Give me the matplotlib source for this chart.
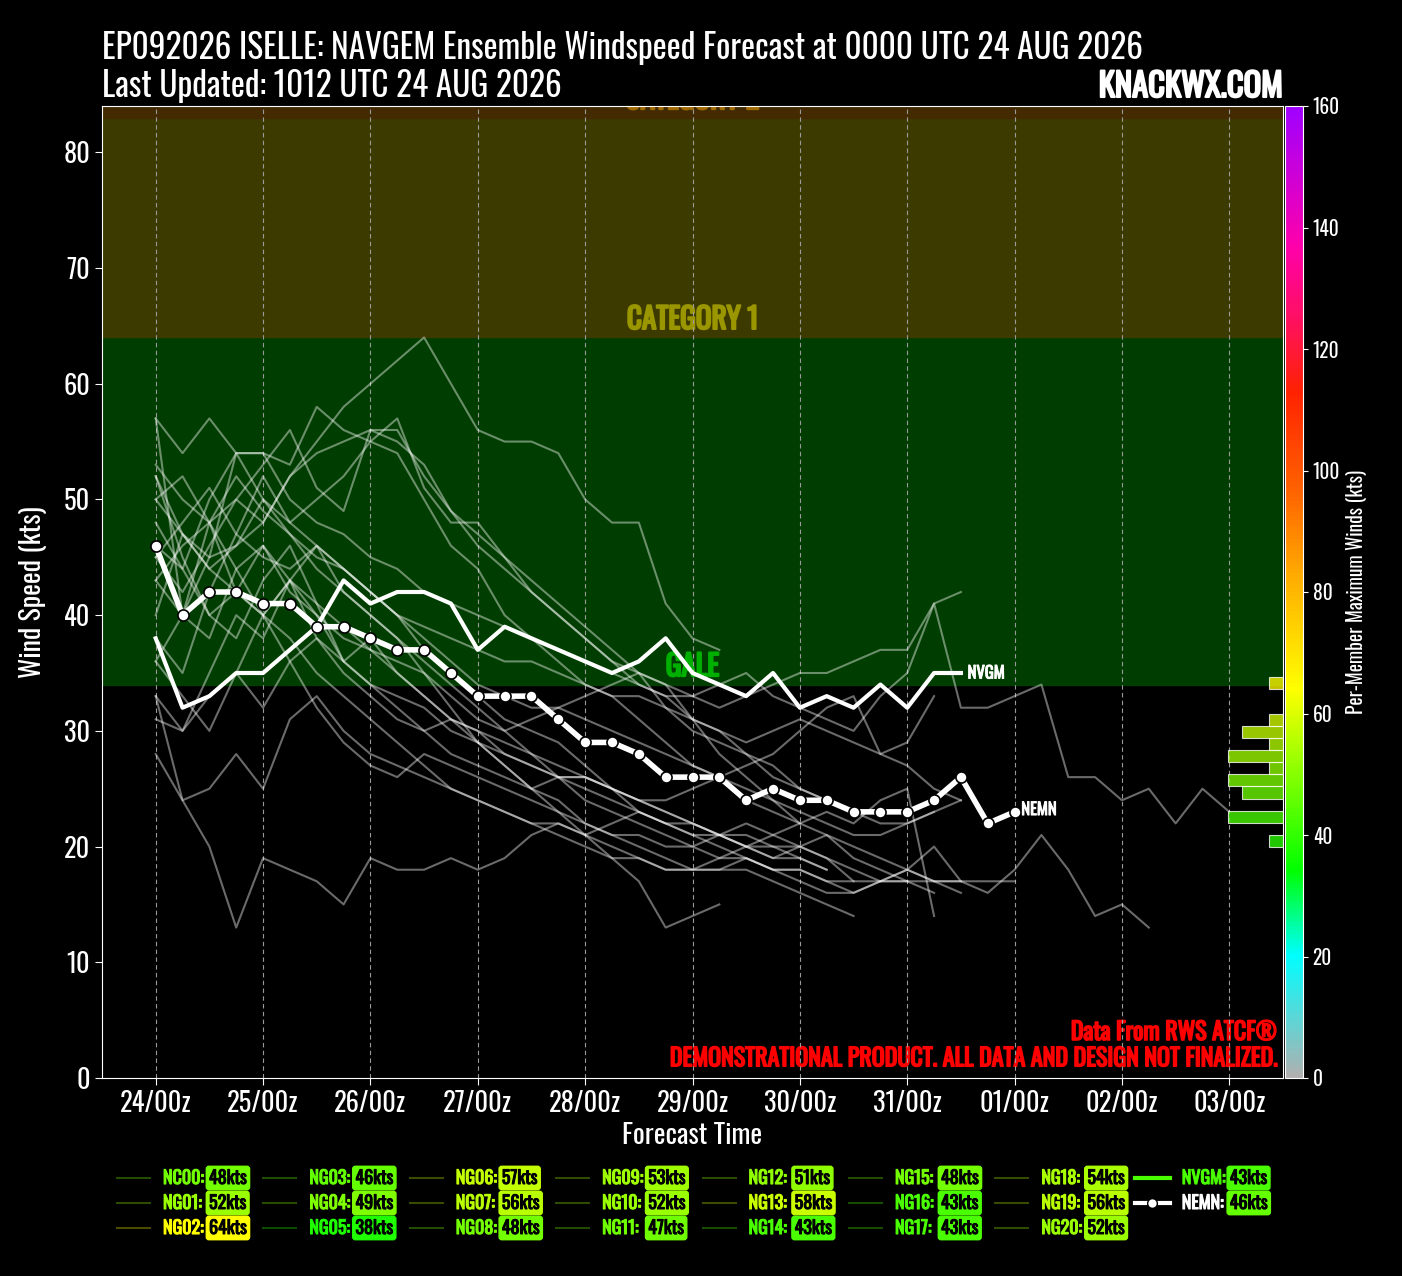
import numpy as np
import matplotlib
matplotlib.use('Agg')
import matplotlib.pyplot as plt
import matplotlib.patheffects as pe
from matplotlib import font_manager
from matplotlib.colors import LinearSegmentedColormap, Normalize
from matplotlib.colorbar import ColorbarBase

# ---- data ----
day_labels = ['24/00z', '25/00z', '26/00z', '27/00z', '28/00z', '29/00z',
              '30/00z', '31/00z', '01/00z', '02/00z', '03/00z']

nvgm = [38, 32, 33, 35, 35, 37, 39, 43, 41, 42, 42, 41, 37, 39, 38, 37, 36, 35, 36, 38,
        35, 34, 33, 35, 32, 33, 32, 34, 32, 35, 35]
nemn = [46, 40, 42, 42, 41, 41, 39, 39, 38, 37, 37, 35, 33, 33, 33, 31, 29, 29, 28, 26,
        26, 26, 24, 25, 24, 24, 23, 23, 23, 24, 26, 22, 23]

member_names = ['NC00', 'NG01', 'NG02', 'NG03', 'NG04', 'NG05', 'NG06', 'NG07', 'NG08', 'NG09',
                'NG10', 'NG11', 'NG12', 'NG13', 'NG14', 'NG15', 'NG16', 'NG17', 'NG18', 'NG19', 'NG20']
member_max = [48, 52, 64, 46, 49, 38, 57, 56, 48, 53, 52, 47, 51, 58, 43, 48, 43, 43, 54, 56, 52]
nvgm_max = 43
nemn_max = 46

# 6-hourly member winds from 24/00z
members = [
    [48, 44, 40, 42, 46, 43, 40, 38, 37, 35, 33, 31, 30, 29, 28, 27, 26, 25, 23, 22, 21, 21, 20, 19, 19, 18],
    [52, 47, 44, 46, 50, 47, 44, 42, 40, 38, 36, 34, 32, 30, 28, 26, 25, 24, 23, 22, 22, 21, 20, 19, 20, 21, 19, 18, 17],
    [50, 47, 45, 46, 48, 52, 55, 58, 60, 62, 64, 60, 56, 55, 55, 54, 50, 48, 48, 41, 38, 37],
    [43, 40, 38, 44, 46, 42, 40, 36, 34, 32, 30, 31, 29, 27, 25, 24, 22, 21, 20, 19, 18, 18, 19, 18, 17, 16, 16, 17, 17, 16],
    [33, 24, 25, 28, 25, 31, 33, 30, 28, 27, 26, 25, 24, 23, 22, 22, 21, 22, 23, 22, 21, 20, 19, 18, 18, 17, 16, 17, 18, 17, 16],
    [31, 30, 33, 35, 32, 36, 38, 35, 33, 31, 30, 28, 27, 26, 25, 26, 24, 23, 22, 21, 20, 21, 22, 21, 22, 23, 22, 24, 25, 14],
    [57, 40, 45, 54, 50, 48, 50, 52, 55, 54, 50, 46, 44, 40, 38, 36, 34, 33, 31, 29, 27, 26, 24, 23, 22],
    [45, 42, 46, 50, 48, 52, 54, 55, 56, 56, 52, 49, 46, 44, 42, 40, 38, 36, 35, 34, 31, 28, 26, 24, 22, 21, 20, 19, 18, 17, 17],
    [36, 40, 48, 44, 40, 38, 35, 33, 31, 29, 27, 25, 24, 23, 22, 21, 20, 19, 19, 18, 18, 18, 18, 17, 16, 15, 14],
    [53, 50, 48, 52, 49, 47, 45, 44, 42, 40, 39, 38, 37, 36, 36, 35, 34, 33, 33, 32, 31, 30, 29, 30, 31, 30, 29, 28, 27, 25, 24],
    [38, 35, 42, 47, 52, 48, 46, 44, 42, 40, 38, 36, 34, 33, 32, 32, 31, 30, 29, 28, 27, 26, 25, 24, 23, 22, 21, 21, 22, 23],
    [40, 47, 44, 42, 40, 36, 32, 29, 27, 26, 28, 27, 26, 25, 24, 23, 22, 21, 21, 20, 20, 19, 19, 18, 18, 17, 17],
    [45, 48, 51, 47, 45, 44, 46, 42, 40, 38, 35, 32, 29, 27, 25, 23, 21, 19, 17, 13, 14, 15],
    [57, 54, 57, 54, 54, 53, 58, 56, 55, 57, 51, 48, 48, 45, 42, 40, 38, 36, 34, 33, 31, 30, 28, 27, 25, 24],
    [28, 24, 20, 13, 19, 18, 17, 15, 19, 18, 18, 19, 18, 19, 21, 22, 21, 20, 19, 18, 18, 19, 20, 21, 20, 19, 17, 17,
     18, 20, 17, 16, 18, 21, 18, 14, 15, 13],
    [43, 46, 48, 42, 40, 43, 46, 44, 42, 40, 37, 35, 33, 31, 30, 29, 27, 25, 24, 23, 22, 21, 20, 20, 19, 18],
    [36, 33, 30, 35, 40, 43, 38, 36, 34, 33, 32, 30, 29, 28, 27, 26, 26, 25, 24, 24, 25, 26, 27, 28, 30, 32, 33, 28, 29, 33],
    [33, 30, 35, 40, 38, 43, 41, 39, 37, 36, 35, 33, 31, 30, 31, 32, 33, 34, 35, 34, 33, 32, 33, 34, 35, 35, 36, 37, 37, 41, 42],
    [46, 44, 50, 54, 54, 50, 48, 47, 45, 44, 42, 41, 40, 39, 38, 37, 36, 35, 34, 33, 33, 34, 35, 33, 32, 31, 30, 33, 35,
     41, 32, 32, 33, 34, 26, 26, 24, 25, 22, 25, 23],
    [50, 52, 48, 50, 53, 56, 51, 49, 56, 55, 53, 49, 47, 45, 43, 41, 39, 37, 35, 32, 30, 29, 28, 26, 25, 24, 23, 22, 22, 23, 24],
    [52, 45, 40, 38, 43, 46, 41, 36, 38, 35, 33, 31, 30, 28, 27, 26, 26, 25, 24, 23, 22, 21, 21, 20, 20, 19, 18, 17, 17, 17, 17, 17, 17],
]

# Oswald here is a variable font at its default weight, so fake the bold with a stroke
plt.rcParams['font.family'] = ['Oswald', 'DejaVu Sans']
has_bold = any(str(f.weight) in ('bold', '700', '600', 'semibold', 'demibold')
               for f in font_manager.fontManager.ttflist if f.name == 'Oswald')


def bold_kw(col, w=0.9):
    if has_bold:
        return dict(fontweight='bold')
    return dict(path_effects=[pe.withStroke(linewidth=w, foreground=col)])


# colour map for per-member maximum winds
cmap = LinearSegmentedColormap.from_list('wind', [
    (0 / 160, '#b0b0b0'), (20 / 160, '#00ffff'), (34 / 160, '#00ff00'), (64 / 160, '#ffff00'),
    (83 / 160, '#ffaa00'), (96 / 160, '#ff6600'), (113 / 160, '#ff2200'), (125 / 160, '#ff1060'),
    (137 / 160, '#ff00aa'), (160 / 160, '#a000ff')])
norm = Normalize(0, 160)

W, H = 1402, 1276
fig = plt.figure(figsize=(W / 100, H / 100), dpi=100, facecolor='black')

ax_l, ax_r, ax_t, ax_b = 102, 1283, 106, 1078
ax = fig.add_axes([ax_l / W, 1 - ax_b / H, (ax_r - ax_l) / W, (ax_b - ax_t) / H])
ax.set_facecolor('black')
ax.set_xlim(-12, 252)
ax.set_ylim(0, 84)

# intensity bands
ax.axhspan(34, 64, color='#003d00', zorder=0)
ax.axhspan(64, 83, color='#3d3a00', zorder=0)
ax.axhspan(83, 96, color='#432a00', zorder=0)
ax.text(120, 34.3, 'GALE', color='#00b000', fontsize=21, ha='center', va='bottom', zorder=1,
        **bold_kw('#00b000', 1.5))
ax.text(120, 64.3, 'CATEGORY 1', color='#9a9600', fontsize=21, ha='center', va='bottom', zorder=1,
        **bold_kw('#9a9600', 1.5))
ax.text(120, 83.3, 'CATEGORY 2', color='#a06a00', fontsize=21, ha='center', va='bottom',
        zorder=1, clip_on=True, **bold_kw('#a06a00', 1.5))
ax.text(0.995, 0.035, 'Data From RWS ATCF\u00ae', transform=ax.transAxes, color='red',
        fontsize=17.3, ha='right', va='bottom', zorder=1, **bold_kw('red', 1.2))
ax.text(0.995, 0.008, 'DEMONSTRATIONAL PRODUCT. ALL DATA AND DESIGN NOT FINALIZED.', transform=ax.transAxes,
        color='red', fontsize=17.3, ha='right', va='bottom', zorder=1, **bold_kw('red', 1.2))

for d in range(len(day_labels)):
    ax.axvline(d * 24, color='#9a9a9a', lw=0.8, ls=(0, (4, 3)), zorder=1.5)

for series in members:
    hrs = np.arange(len(series)) * 6
    ax.plot(hrs, series, color='white', alpha=0.42, lw=1.5, zorder=2)

hrs = np.arange(len(nvgm)) * 6
ax.plot(hrs, nvgm, color='white', lw=3, zorder=4)
ax.text(hrs[-1] + 1.5, nvgm[-1], 'NVGM', color='white', fontsize=12, va='center', zorder=5,
        **bold_kw('white', 0.7))

hrs = np.arange(len(nemn)) * 6
ax.plot(hrs, nemn, color='white', lw=4, marker='o', ms=8, mfc='white', mec='black', mew=1.2, zorder=5)
ax.text(hrs[-1] + 1.5, nemn[-1] + 0.2, 'NEMN', color='white', fontsize=12, va='center', zorder=6,
        **bold_kw('white', 0.7))

ax.set_xticks(np.arange(len(day_labels)) * 24)
ax.set_xticklabels(day_labels)
ax.set_yticks(np.arange(0, 81, 10))
ax.tick_params(colors='white', labelsize=19, length=5)
for sp in ax.spines.values():
    sp.set_color('white')
ax.set_xlabel('Forecast Time', color='white', fontsize=20, labelpad=4)
ax.set_ylabel('Wind Speed (kts)', color='white', fontsize=20, labelpad=12)

# histogram of per-member maxima on the colour bar scale
all_max = member_max + [nvgm_max, nemn_max]
counts, edges = np.histogram(all_max, bins=np.arange(0, 162, 2))
hw = 137
hax = fig.add_axes([(ax_r - hw) / W, 1 - ax_b / H, hw / W, (ax_b - ax_t) / H])
hax.patch.set_alpha(0)
hax.set_xlim(10, 0)
hax.set_ylim(0, 160)
hax.axis('off')
for c, e in zip(counts, edges[:-1]):
    if c > 0:
        hax.barh(e, c, height=2, align='edge', color=cmap(norm(e + 1)), alpha=0.78,
                 edgecolor=(1, 1, 1, 0.25), lw=0.8)

# colour bar
cax = fig.add_axes([1285 / W, 1 - ax_b / H, 18 / W, (ax_b - ax_t) / H])
cb = ColorbarBase(cax, cmap=cmap, norm=norm, ticks=np.arange(0, 161, 20))
cb.outline.set_edgecolor('white')
cax.tick_params(colors='white', labelsize=14)
cb.set_label('Per-Member Maximum Winds (kts)', color='white', fontsize=14)

# titles
fig.text(102 / W, 1 - 59 / H, 'EP092026 ISELLE: NAVGEM Ensemble Windspeed Forecast at 0000 UTC 24 AUG 2026',
         color='white', fontsize=24, ha='left', va='baseline')
fig.text(102 / W, 1 - 97 / H, 'Last Updated: 1012 UTC 24 AUG 2026', color='white', fontsize=24,
         ha='left', va='baseline')
fig.text(1283 / W, 1 - 97 / H, 'KNACKWX.COM', color='white', fontsize=23.5,
         ha='right', va='baseline', **bold_kw('white', 1.5))

# custom legend
col_x = [117 + 146.4 * c for c in range(8)]
row_y = [1178, 1203, 1228]
for i, (name, v) in enumerate(zip(member_names, member_max)):
    c, r = divmod(i, 3)
    x0, y0 = col_x[c], row_y[r]
    col = cmap(norm(v))
    fig.add_artist(plt.Line2D([x0 / W, (x0 + 33) / W], [1 - y0 / H] * 2, color=col, alpha=0.3, lw=1.5))
    fig.text((x0 + 46) / W, 1 - y0 / H, name + ':', color=col, fontsize=13, va='center',
             **bold_kw(col, 0.8))
    fig.text((x0 + 92) / W, 1 - y0 / H, '%dkts' % v, color='black', fontsize=13, va='center',
             bbox=dict(boxstyle='round,pad=0.15', fc=col, ec=col), **bold_kw('black', 0.7))

x0 = col_x[7] - 7
for r, (name, v) in enumerate([('NVGM', nvgm_max), ('NEMN', nemn_max)]):
    y0 = row_y[r]
    if name == 'NVGM':
        fig.add_artist(plt.Line2D([x0 / W, (x0 + 35) / W], [1 - y0 / H] * 2, color=cmap(norm(v)), lw=3))
        tcol = cmap(norm(v))
    else:
        fig.add_artist(plt.Line2D([x0 / W, (x0 + 35) / W], [1 - y0 / H] * 2, color='white', lw=3))
        fig.add_artist(plt.Line2D([(x0 + 17.5) / W], [1 - y0 / H], color='white', marker='o', ms=7,
                                  mfc='white', mec='black'))
        tcol = 'white'
    fig.text((x0 + 47) / W, 1 - y0 / H, name + ':', color=tcol, fontsize=13, va='center',
             **bold_kw(tcol, 0.8))
    fig.text((x0 + 95) / W, 1 - y0 / H, '%dkts' % v, color='black', fontsize=13, va='center',
             bbox=dict(boxstyle='round,pad=0.15', fc=cmap(norm(v)), ec=cmap(norm(v))), **bold_kw('black', 0.7))

fig.savefig('out.png', dpi=100, facecolor='black')
